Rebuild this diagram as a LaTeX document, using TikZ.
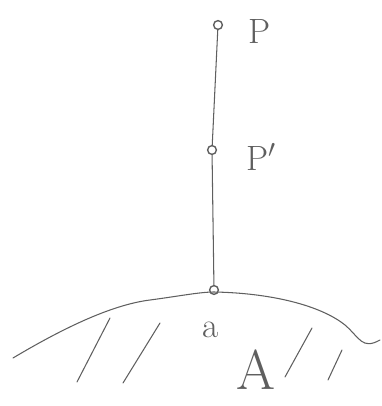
\documentclass[tikz,border=0pt]{standalone}
\usetikzlibrary{positioning}
\definecolor{pencil}{RGB}{95, 95, 95}

\begin{document}
\begin{tikzpicture}[
    x=0.02cm, y=-0.02cm,
    pt/.style={circle, draw=pencil, thick, fill=white, inner sep=0pt, minimum size=5pt},
    lbl/.style={text=pencil, font=\fontsize{20}{22}\selectfont, inner sep=1pt},
    hatch/.style={draw=pencil, line width=0.6pt, line cap=round}
]
\useasboundingbox (0,0) rectangle (382,406);
\node[pt] (P) at (218,25) {};
\node[pt] (Pp) at (212,150) {};
\node[pt] (a) at (214,290) {};
\node[lbl, anchor=west] (Plbl) at (246,31) {P};
\node[lbl, anchor=west] (Pplbl) at (244,157) {P$'$};
\node[lbl] (albl) at (211,330) {a};
\node[lbl, font=\fontsize{32}{34}\selectfont] (Albl) at (256,370) {A};

\draw[pencil, line width=0.6pt] (P) -- (Pp) -- (a);

% the body A
\draw[pencil, line width=0.6pt, line cap=round] (13,358) .. controls (60,330) and (110,305) .. (150,300)
    .. controls (180,296) and (200,292) .. (214,292)
    .. controls (270,293) and (320,305) .. (345,325)
    .. controls (360,338) and (362,350) .. (380,340);
\draw[hatch] (110,318) -- (77,382);
\draw[hatch] (160,323) -- (123,383);
\draw[hatch] (312,328) -- (285,377);
\draw[hatch] (342,350) -- (328,380);
\end{tikzpicture}
\end{document}
